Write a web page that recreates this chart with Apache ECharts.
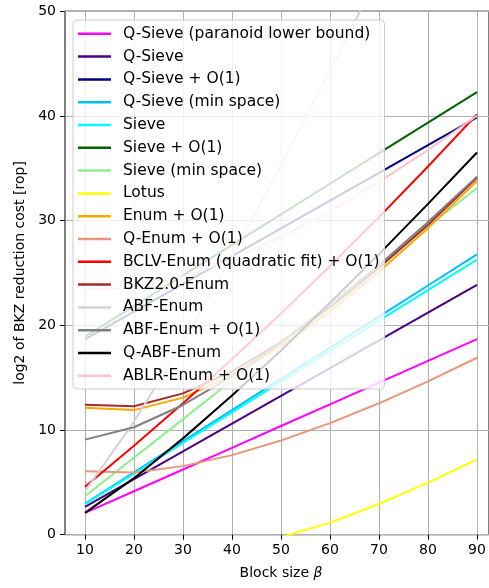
<!DOCTYPE html>
<html>
<head>
<meta charset="utf-8">
<script src="https://cdn.jsdelivr.net/npm/echarts@6/dist/echarts.min.js"></script>
<style>
html,body{margin:0;padding:0;background:#fff;}
#chart{width:489px;height:588px;}
</style>
</head>
<body>
<div id="chart"></div>
<script>
var betas = [10, 20, 30, 40, 50, 60, 70, 80, 90];
var xTicks = [10, 20, 30, 40, 50, 60, 70, 80, 90];
var yTicks = [0, 10, 20, 30, 40, 50];

var seriesNames = [
  'Q-Sieve (paranoid lower bound)', 'Q-Sieve', 'Q-Sieve + O(1)', 'Q-Sieve (min space)',
  'Sieve', 'Sieve + O(1)', 'Sieve (min space)', 'Lotus', 'Enum + O(1)', 'Q-Enum + O(1)',
  'BCLV-Enum (quadratic fit) + O(1)', 'BKZ2.0-Enum', 'ABF-Enum', 'ABF-Enum + O(1)',
  'Q-ABF-Enum', 'ABLR-Enum + O(1)'
];
var seriesColors = [
  '#ff00ff', '#4b0082', '#000080', '#00bfff', '#00ffff', '#006400', '#90ee90', '#ffff00',
  '#ffa500', '#e9967a', '#ff0000', '#a52a2a', '#d3d3d3', '#808080', '#000000', '#ffc0cb'
];

var qSieveParanoid = [2.08, 4.15, 6.23, 8.3, 10.38, 12.45, 14.53, 16.6, 18.68];
var qSieve         = [2.65, 5.3, 7.95, 10.6, 13.25, 15.9, 18.55, 21.2, 23.85];
var qSieveO1       = [18.65, 21.3, 23.95, 26.6, 29.25, 31.9, 34.55, 37.2, 39.85];
var qSieveMinSpace = [2.98, 5.95, 8.93, 11.9, 14.88, 17.85, 20.83, 23.8, 26.78];
var sieve          = [2.92, 5.84, 8.76, 11.68, 14.6, 17.52, 20.44, 23.36, 26.28];
var sieveO1        = [18.92, 21.84, 24.76, 27.68, 30.6, 33.52, 36.44, 39.36, 42.28];
var sieveMinSpace  = [3.68, 7.36, 11.04, 14.72, 18.4, 22.08, 25.76, 29.44, 33.12];
var lotus          = [-4.2, -3.6, -2.75, -1.7, -0.25, 1.15, 2.93, 4.97, 7.2];
var enumO1         = [12.13, 11.9, 13.09, 15.2, 18.0, 21.32, 25.11, 29.28, 33.79];
var qEnumO1        = [6.07, 5.95, 6.55, 7.6, 9.0, 10.66, 12.55, 14.64, 16.9];
var bclvEnumO1     = [4.58, 8.49, 12.55, 16.77, 21.13, 25.66, 30.33, 35.17, 40.15];
var bkz20Enum      = [12.4, 12.26, 13.5, 15.6, 18.4, 21.7, 25.5, 29.6, 34.1];
var abfEnum        = [4.15, 10.8, 18.4, 26.6, 35.3, 44.3, 53.6, 63.2, 73.0];
var abfEnumO1      = [9.08, 10.26, 12.39, 15.13, 18.32, 21.88, 25.74, 29.86, 34.2];
var qAbfEnum       = [2.08, 5.4, 9.2, 13.3, 17.6, 22.15, 26.8, 31.6, 36.5];
var ablrEnumO1     = [23.45, 23.56, 24.62, 26.29, 28.41, 30.9, 33.69, 36.74, 40.01];

var allValues = [qSieveParanoid, qSieve, qSieveO1, qSieveMinSpace, sieve, sieveO1, sieveMinSpace,
  lotus, enumO1, qEnumO1, bclvEnumO1, bkz20Enum, abfEnum, abfEnumO1, qAbfEnum, ablrEnumO1];

var FONT = 'DejaVu Sans';
var chart = echarts.init(document.getElementById('chart'), null, {renderer: 'canvas'});

var series = allValues.map(function (vals, i) {
  return {
    name: seriesNames[i],
    type: 'line',
    xAxisIndex: 1,
    yAxisIndex: 1,
    symbol: 'none',
    clip: true,
    color: seriesColors[i],
    lineStyle: {width: 2, color: seriesColors[i]},
    data: betas.map(function (b, j) { return [b, vals[j]]; })
  };
});

chart.setOption({
  animation: false,
  backgroundColor: '#fff',
  textStyle: {fontFamily: FONT},
  grid: [
    {left: 65, top: 11.2, width: 431, height: 523.5, show: true, borderColor: '#000', borderWidth: 1, backgroundColor: 'transparent'},
    {left: 85, top: 11.2, width: 392, height: 523.5}
  ],
  xAxis: [
    {gridIndex: 0, type: 'value', min: 6, max: 94, show: false},
    {
      gridIndex: 1, type: 'value', min: xTicks[0], max: xTicks[xTicks.length - 1], interval: 10,
      axisLine: {show: false},
      axisTick: {show: true, length: 5, lineStyle: {color: '#000', width: 1}},
      axisLabel: {fontSize: 14, color: '#000', margin: 9, fontFamily: FONT},
      splitLine: {show: true, lineStyle: {color: '#b0b0b0', width: 1}},
      name: 'Block size {i|β}',
      nameLocation: 'middle',
      nameGap: 32,
      nameTextStyle: {fontSize: 14, color: '#000', fontFamily: FONT,
        rich: {i: {fontSize: 14, fontStyle: 'italic', color: '#000', fontFamily: FONT}}}
    }
  ],
  yAxis: [
    {
      gridIndex: 0, type: 'value', min: yTicks[0], max: yTicks[yTicks.length - 1], interval: 10,
      axisLine: {show: false},
      axisTick: {show: true, length: 5, lineStyle: {color: '#000', width: 1}},
      axisLabel: {fontSize: 14, color: '#000', margin: 9, fontFamily: FONT},
      splitLine: {show: true, lineStyle: {color: '#b0b0b0', width: 1}},
      name: 'log2 of BKZ reduction cost [rop]',
      nameLocation: 'middle',
      nameGap: 38,
      nameTextStyle: {fontSize: 14, color: '#000', fontFamily: FONT}
    },
    {gridIndex: 1, type: 'value', min: 0, max: 50, show: false}
  ],
  legend: {
    data: seriesNames,
    orient: 'vertical',
    left: 73,
    top: 20,
    padding: [5.8, 5, 5.2, 5],
    icon: 'rect',
    itemWidth: 33,
    itemHeight: 2.5,
    itemGap: 6.8,
    selectedMode: false,
    backgroundColor: 'rgba(255,255,255,0.8)',
    borderColor: '#cccccc',
    borderWidth: 1,
    borderRadius: 4,
    textStyle: {fontSize: 15.5, color: '#000', fontFamily: FONT, lineHeight: 15.5, padding: [0, 0, 0, 7]}
  },
  series: series
});
</script>
</body>
</html>
